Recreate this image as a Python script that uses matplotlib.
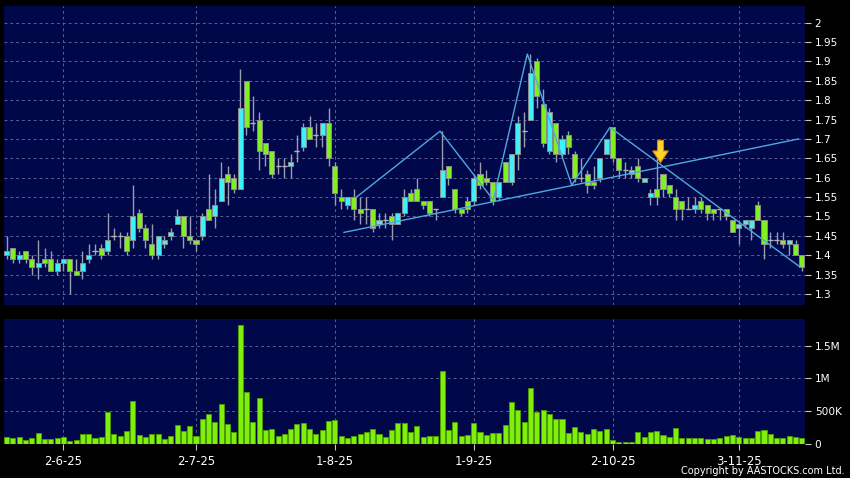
import matplotlib.pyplot as plt
from matplotlib.path import Path
import numpy as np

# daily OHLC + volume, bar index 0..126
opens = [1.40, 1.42, 1.39, 1.41, 1.39, 1.37, 1.39, 1.39, 1.36, 1.38,
         1.39, 1.36, 1.36, 1.39, 1.41, 1.42, 1.41, 1.45, 1.45, 1.45,
         1.44, 1.51, 1.47, 1.43, 1.40, 1.43, 1.45, 1.48, 1.50, 1.45,
         1.44, 1.45, 1.52, 1.50, 1.54, 1.61, 1.60, 1.57, 1.85, 1.74,
         1.75, 1.69, 1.67, 1.63, 1.63, 1.63, 1.67, 1.68, 1.73, 1.71,
         1.71, 1.74, 1.63, 1.55, 1.53, 1.55, 1.52, 1.52, 1.52, 1.48,
         1.49, 1.50, 1.48, 1.51, 1.56, 1.57, 1.54, 1.54, 1.52, 1.55,
         1.63, 1.57, 1.52, 1.54, 1.54, 1.61, 1.60, 1.59, 1.55, 1.64,
         1.59, 1.66, 1.72, 1.75, 1.90, 1.79, 1.67, 1.74, 1.66, 1.71,
         1.66, 1.60, 1.61, 1.59, 1.60, 1.66, 1.73, 1.65, 1.62, 1.61,
         1.63, 1.59, 1.55, 1.57, 1.61, 1.58, 1.55, 1.54, 1.52, 1.52,
         1.54, 1.53, 1.52, 1.52, 1.52, 1.49, 1.47, 1.48, 1.47, 1.53,
         1.49, 1.44, 1.44, 1.44, 1.43, 1.43, 1.40]
highs = [1.45, 1.42, 1.41, 1.41, 1.40, 1.44, 1.42, 1.41, 1.39, 1.39,
         1.39, 1.39, 1.41, 1.43, 1.43, 1.43, 1.51, 1.47, 1.46, 1.46,
         1.58, 1.52, 1.48, 1.48, 1.45, 1.45, 1.47, 1.52, 1.50, 1.50,
         1.44, 1.51, 1.61, 1.57, 1.64, 1.63, 1.61, 1.88, 1.85, 1.81,
         1.77, 1.69, 1.67, 1.65, 1.65, 1.66, 1.71, 1.74, 1.76, 1.74,
         1.74, 1.78, 1.64, 1.57, 1.55, 1.57, 1.55, 1.55, 1.52, 1.51,
         1.51, 1.51, 1.51, 1.57, 1.57, 1.60, 1.54, 1.54, 1.52, 1.72,
         1.63, 1.57, 1.52, 1.55, 1.61, 1.64, 1.62, 1.59, 1.59, 1.64,
         1.66, 1.76, 1.77, 1.92, 1.91, 1.83, 1.78, 1.74, 1.71, 1.72,
         1.67, 1.65, 1.62, 1.63, 1.65, 1.70, 1.73, 1.65, 1.64, 1.63,
         1.65, 1.60, 1.57, 1.65, 1.61, 1.58, 1.57, 1.54, 1.55, 1.55,
         1.55, 1.53, 1.52, 1.52, 1.52, 1.49, 1.49, 1.49, 1.49, 1.54,
         1.49, 1.46, 1.46, 1.46, 1.44, 1.44, 1.40]
lows = [1.39, 1.38, 1.38, 1.38, 1.35, 1.34, 1.37, 1.36, 1.35, 1.36,
        1.30, 1.35, 1.34, 1.38, 1.40, 1.39, 1.40, 1.44, 1.42, 1.40,
        1.42, 1.46, 1.42, 1.39, 1.39, 1.42, 1.44, 1.48, 1.42, 1.43,
        1.41, 1.44, 1.49, 1.47, 1.54, 1.53, 1.56, 1.57, 1.71, 1.72,
        1.62, 1.63, 1.60, 1.61, 1.60, 1.60, 1.64, 1.67, 1.70, 1.68,
        1.68, 1.63, 1.53, 1.52, 1.52, 1.49, 1.48, 1.48, 1.46, 1.47,
        1.47, 1.44, 1.48, 1.50, 1.54, 1.54, 1.52, 1.50, 1.49, 1.55,
        1.58, 1.51, 1.50, 1.51, 1.53, 1.57, 1.58, 1.53, 1.54, 1.59,
        1.58, 1.62, 1.68, 1.75, 1.78, 1.68, 1.66, 1.64, 1.65, 1.66,
        1.59, 1.59, 1.56, 1.57, 1.59, 1.66, 1.64, 1.60, 1.60, 1.60,
        1.59, 1.59, 1.53, 1.53, 1.55, 1.55, 1.49, 1.49, 1.52, 1.51,
        1.51, 1.49, 1.49, 1.49, 1.49, 1.46, 1.43, 1.47, 1.44, 1.49,
        1.39, 1.42, 1.43, 1.42, 1.40, 1.40, 1.36]
closes = [1.41, 1.39, 1.40, 1.39, 1.37, 1.38, 1.38, 1.36, 1.38, 1.39,
          1.36, 1.35, 1.38, 1.40, 1.41, 1.40, 1.44, 1.45, 1.45, 1.41,
          1.50, 1.47, 1.44, 1.40, 1.45, 1.44, 1.46, 1.50, 1.45, 1.44,
          1.43, 1.50, 1.49, 1.53, 1.60, 1.59, 1.57, 1.78, 1.73, 1.74,
          1.67, 1.66, 1.61, 1.63, 1.63, 1.64, 1.67, 1.73, 1.70, 1.71,
          1.74, 1.65, 1.56, 1.54, 1.55, 1.52, 1.51, 1.52, 1.47, 1.49,
          1.49, 1.48, 1.51, 1.55, 1.54, 1.54, 1.53, 1.51, 1.52, 1.62,
          1.60, 1.52, 1.51, 1.52, 1.60, 1.58, 1.59, 1.54, 1.59, 1.59,
          1.66, 1.74, 1.72, 1.87, 1.81, 1.69, 1.77, 1.66, 1.70, 1.68,
          1.60, 1.60, 1.58, 1.58, 1.65, 1.70, 1.65, 1.62, 1.62, 1.62,
          1.60, 1.60, 1.56, 1.55, 1.57, 1.56, 1.52, 1.52, 1.52, 1.53,
          1.52, 1.51, 1.51, 1.52, 1.50, 1.46, 1.48, 1.49, 1.49, 1.49,
          1.43, 1.44, 1.44, 1.43, 1.44, 1.40, 1.37]
# volume in millions of shares
volumes = [0.10, 0.09, 0.10, 0.05, 0.09, 0.16, 0.07, 0.07, 0.09, 0.10,
           0.04, 0.06, 0.15, 0.14, 0.09, 0.10, 0.48, 0.14, 0.12, 0.19,
           0.66, 0.13, 0.10, 0.14, 0.14, 0.07, 0.12, 0.29, 0.19, 0.27,
           0.11, 0.37, 0.46, 0.33, 0.61, 0.30, 0.17, 1.82, 0.79, 0.33,
           0.70, 0.21, 0.23, 0.11, 0.14, 0.22, 0.30, 0.31, 0.22, 0.14,
           0.21, 0.34, 0.36, 0.11, 0.08, 0.12, 0.15, 0.17, 0.22, 0.14,
           0.10, 0.21, 0.32, 0.31, 0.17, 0.27, 0.10, 0.11, 0.12, 1.11,
           0.21, 0.33, 0.11, 0.13, 0.32, 0.17, 0.13, 0.16, 0.16, 0.29,
           0.64, 0.51, 0.33, 0.86, 0.48, 0.52, 0.45, 0.37, 0.37, 0.16,
           0.26, 0.17, 0.14, 0.22, 0.19, 0.23, 0.06, 0.03, 0.02, 0.03,
           0.18, 0.10, 0.17, 0.19, 0.13, 0.10, 0.24, 0.08, 0.08, 0.08,
           0.08, 0.07, 0.07, 0.08, 0.11, 0.13, 0.10, 0.08, 0.08, 0.19,
           0.20, 0.14, 0.08, 0.09, 0.12, 0.10, 0.08]

date_ticks = [9, 30, 52, 74, 96, 116]
date_labels = ['2-6-25', '2-7-25', '1-8-25', '1-9-25', '2-10-25', '3-11-25']

# drawn pattern lines (bar index, price)
support_x = [53.45, 125.45]
support_y = [1.459, 1.70]
zigzag_x = [55.35, 68.67, 77.1, 82.5, 89.54, 95.6, 125.7]
zigzag_y = [1.549, 1.72, 1.543, 1.919, 1.581, 1.73, 1.37]
arrow_x, arrow_y = 103.6, 1.669

BG = '#01084a'
GRID = '#5a5e92'
UP = '#3ff0f8'
DOWN = '#80f020'
LINE = '#4ea8e0'

o = np.array(opens); h = np.array(highs); l = np.array(lows); c = np.array(closes)
v = np.array(volumes) * 1e6
x = np.arange(len(o))

fig = plt.figure(figsize=(8.5, 4.78), dpi=100, facecolor='black')
ax = fig.add_axes([4/850, 1 - 305/478, 801/850, 299/478], facecolor=BG)
axv = fig.add_axes([4/850, 1 - 443.5/478, 801/850, 124.5/478], facecolor=BG)

# wicks, then bodies on top
ax.vlines(x, l, h, color='#9a9cb0', lw=1, zorder=2)
cols = np.where(c > o, UP, DOWN)
body = c - o
ax.bar(x, body, bottom=o, width=0.8, color=cols, edgecolor='#8a8c8c',
       linewidth=0.7, zorder=3)
doji = body == 0
ax.hlines(c[doji], x[doji] - 0.4, x[doji] + 0.4, color='#b0b2b8', lw=1, zorder=3)

ax.plot(support_x, support_y, color=LINE, lw=1, zorder=4)
ax.plot(zigzag_x, zigzag_y, color=LINE, lw=1, zorder=4)

arrow = Path([(-0.27, 1), (0.27, 1), (0.27, 0.05), (0.7, 0.05), (0, -1),
              (-0.7, 0.05), (-0.27, 0.05), (-0.27, 1)])
ax.plot(arrow_x, arrow_y, marker=arrow, markersize=16, color='#ffd42a',
        markeredgecolor='#d88a00', markeredgewidth=0.8, zorder=6)

axv.bar(x, v, width=0.8, color='#7ff00a', edgecolor='#4e9e00', linewidth=0.6, zorder=3)

ax.set_xlim(-0.42, 126.5)
axv.set_xlim(-0.42, 126.5)
ax.set_ylim(1.2717, 2.043)
axv.set_ylim(0, 1.912e6)

pticks = np.round(np.arange(1.30, 2.001, 0.05), 2)
ax.set_yticks(pticks)
ax.set_yticklabels(['%g' % t for t in pticks])
axv.set_yticks([0, 0.5e6, 1e6, 1.5e6])
axv.set_yticklabels(['0', '500K', '1M', '1.5M'])

for a in (ax, axv):
    a.yaxis.tick_right()
    a.set_xticks(date_ticks)
    a.grid(True, color=GRID, linestyle=(0, (3, 3)), lw=0.7, zorder=0)
    a.set_axisbelow(True)
    for s in a.spines.values():
        s.set_visible(False)
    a.tick_params(axis='y', colors='#c8c8c8', labelcolor='white', length=4,
                  width=0.8, pad=3, labelsize=7.6)

ax.tick_params(axis='x', length=0, labelbottom=False)
axv.set_xticklabels(date_labels)
axv.tick_params(axis='x', colors='#c8c8c8', labelcolor='white', length=4,
                width=0.8, pad=4, labelsize=8.4)
# no grid line at 0 volume
axv.yaxis.get_gridlines()[0].set_visible(False)

fig.text(845/850, 2/478, 'Copyright by AASTOCKS.com Ltd.', ha='right', va='bottom',
         color='white', fontsize=7)

fig.savefig('out.png', dpi=100, facecolor='black')
